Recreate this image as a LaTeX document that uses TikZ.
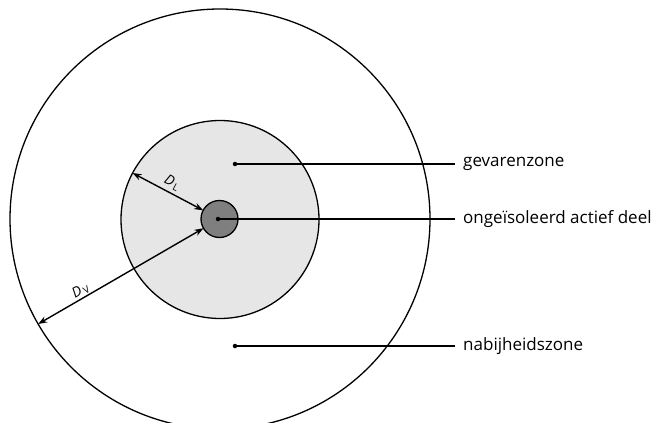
\documentclass[tikz,border=0pt]{standalone}
\usepackage{fontspec}
\setmainfont{Open Sans}
\usetikzlibrary{arrows.meta}
\definecolor{zonefill}{HTML}{E6E6E6}
\definecolor{partfill}{HTML}{7F7F7F}
\begin{document}
\begin{tikzpicture}[x=1pt,y=-1pt,
  zone/.style={circle,draw,line width=1.3pt,inner sep=0pt,outer sep=0pt},
  dotnode/.style={circle,fill,inner sep=0pt,minimum size=4.5pt},
  lead/.style={line width=2pt},
  lbl/.style={anchor=west,inner xsep=8pt,inner ysep=0pt,font=\fontsize{17}{20}\selectfont},
  dimarrow/.style={{Stealth[length=9pt,width=6.5pt]}-{Stealth[length=9pt,width=6.5pt]},line width=1.4pt},
  dimlbl/.style={font=\fontsize{14}{16}\selectfont, inner sep=1pt}]
\useasboundingbox (0,0) rectangle (662,423);
\clip (0,0) rectangle (662,423);
% zones
\node[zone,minimum size=420pt] (outer) at (220,219) {};
\node[zone,fill=zonefill,minimum size=198pt] (hazard) at (220,219.5) {};
\node[zone,fill=partfill,minimum size=37pt] (part) at (219.5,219) {};
% dots
\node[dotnode] (dpart) at (218,219) {};
\node[dotnode] (dhazard) at (235,164) {};
\node[dotnode] (dnear) at (235,346) {};
% labels
\node[lbl] (lhazard) at (455,164) {gevarenzone};
\node[lbl] (lpart) at (455,219) {ongeïsoleerd actief deel};
\node[lbl] (lnear) at (455,346) {nabijheidszone};
% leaders
\draw[lead] (dhazard.center) -- (lhazard.west);
\draw[lead] (dpart.center) -- (lpart.west);
\draw[lead] (dnear.center) -- (lnear.west);
% dimensions
\draw[dimarrow] (hazard.152) -- node[dimlbl,sloped,above=2pt] {\textit{D}\kern1.5pt\textsubscript{L}} (part.152);
\draw[dimarrow] (outer.210) -- node[dimlbl,sloped,above=0pt,pos=0.28] {\textit{D}\kern1.5pt\textsubscript{V}} (part.210);
\end{tikzpicture}
\end{document}
